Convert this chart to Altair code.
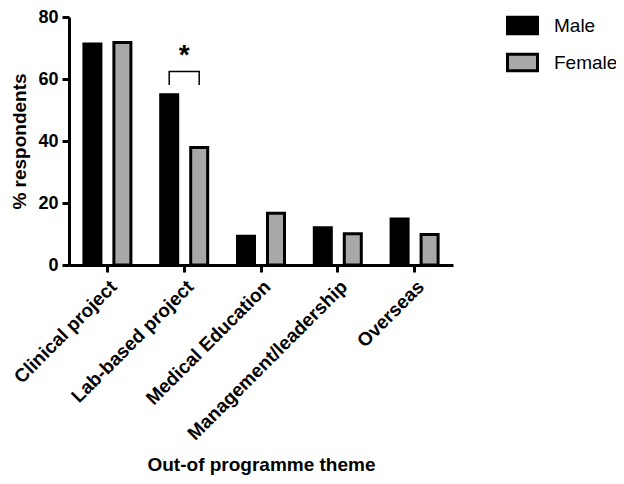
import altair as alt
import pandas as pd

categories = ["Clinical project", "Lab-based project", "Medical Education",
              "Management/leadership", "Overseas"]
male = [71.3, 54.9, 9.3, 12.0, 14.8]
female = [71.8, 37.9, 16.7, 10.1, 9.8]
sexes = ["Male", "Female"]
colors = ["#000000", "#a8a8a8"]
y_ticks = [0, 20, 40, 60, 80]

bracket_theme = "Lab-based project"
bracket_low = 58.1
bracket_high = 62.4
star_y = 67.5

FONT = "Liberation Sans"

rows = []
for c, m, f in zip(categories, male, female):
    rows.append({"theme": c, "sex": "Male", "pct": m})
    rows.append({"theme": c, "sex": "Female", "pct": f})
df = pd.DataFrame(rows)

br = pd.DataFrame([
    {"theme": bracket_theme, "sex": "Male", "pct": bracket_low, "o": 0},
    {"theme": bracket_theme, "sex": "Male", "pct": bracket_high, "o": 1},
    {"theme": bracket_theme, "sex": "Female", "pct": bracket_high, "o": 2},
    {"theme": bracket_theme, "sex": "Female", "pct": bracket_low, "o": 3},
])
star = pd.DataFrame([{"theme": bracket_theme, "pct": star_y, "t": "*"}])

xenc = alt.X(
    "theme:N", sort=categories,
    scale=alt.Scale(paddingInner=0, paddingOuter=0),
    title="Out-of programme theme",
    axis=alt.Axis(
        labelAngle=-45, labelAlign="right", labelBaseline="top", labelLimit=0,
        labelFont=FONT, labelFontSize=19, labelFontWeight="bold", labelColor="black",
        labelPadding=5,
        domainWidth=3, domainColor="black", tickWidth=3, tickSize=7, tickColor="black",
        titleFont=FONT, titleFontSize=19, titleFontWeight="bold", titleColor="black",
        titleY=199, titleBaseline="middle",
    ),
)
yscale = alt.Scale(domain=[0, 80], nice=False)
yenc = alt.Y(
    "pct:Q", scale=yscale, title="% respondents",
    axis=alt.Axis(
        values=y_ticks, grid=False,
        labelFont=FONT, labelFontSize=18, labelFontWeight="bold", labelColor="black",
        labelPadding=4,
        domainWidth=3, domainColor="black", tickWidth=3, tickSize=7, tickColor="black",
        titleFont=FONT, titleFontSize=19, titleFontWeight="bold", titleColor="black",
        titlePadding=8,
    ),
)
xoff = alt.XOffset("sex:N", sort=sexes,
                   scale=alt.Scale(paddingInner=0.433, paddingOuter=0.497))

bars = alt.Chart(df).mark_bar(stroke="black", strokeWidth=3).encode(
    x=xenc, y=yenc, xOffset=xoff,
    color=alt.Color(
        "sex:N", sort=sexes,
        scale=alt.Scale(domain=sexes, range=colors),
        legend=alt.Legend(
            title=None, orient="none", legendX=437, legendY=-8, padding=0,
            symbolType="M-1,-0.55L1,-0.55L1,0.55L-1,0.55Z", symbolSize=900,
            symbolStrokeColor="black", symbolStrokeWidth=3, symbolOpacity=1,
            labelFont=FONT, labelFontSize=19, labelColor="black", labelOffset=15,
            labelLimit=0, rowPadding=6,
        ),
    ),
)

bracket = alt.Chart(br).mark_line(color="black", strokeWidth=1.5).encode(
    x=alt.X("theme:N", sort=categories), y=alt.Y("pct:Q", scale=yscale),
    xOffset=alt.XOffset("sex:N", sort=sexes), order="o:Q",
)

asterisk = alt.Chart(star).mark_text(
    font=FONT, fontSize=28, fontWeight="bold", color="black", baseline="middle"
).encode(
    x=alt.X("theme:N", sort=categories), y=alt.Y("pct:Q", scale=yscale), text="t:N",
)

chart = alt.layer(bars, bracket, asterisk).properties(
    width=384, height=248,
    autosize=alt.AutoSizeParams(type="none"),
    padding={"left": 61, "top": 9, "right": 163, "bottom": 211},
).configure_view(stroke=None)

chart.save("out.html", embed_options={"renderer": "svg", "actions": False})
